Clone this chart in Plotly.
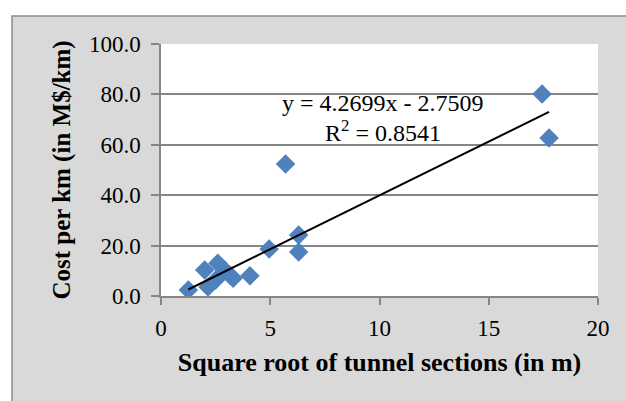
import plotly.graph_objects as go

# Data
section_sqrt = [1.25, 2.0, 2.15, 2.5, 2.6, 2.9, 3.15, 3.3, 4.07, 4.95, 5.7, 6.3, 6.3, 17.44, 17.76]
cost_per_km = [2.4, 10.3, 3.6, 6.3, 13.0, 10.3, 8.3, 7.0, 8.0, 18.7, 52.4, 24.2, 17.5, 80.2, 62.7]
trend_slope = 4.2699
trend_intercept = -2.7509
trend_r2 = 0.8541
x_ticks = [0, 5, 10, 15, 20]
y_ticks = [0, 20, 40, 60, 80, 100]

W, H = 626, 401
ML, MR, MT, MB = 161, 28, 44, 105
FONT = "Liberation Serif"
PW, PH = W - ML - MR, H - MT - MB

trend_x = [min(section_sqrt), max(section_sqrt)]
trend_y = [trend_slope * v + trend_intercept for v in trend_x]

fig = go.Figure()
fig.add_trace(go.Scatter(
    x=section_sqrt, y=cost_per_km, mode="markers",
    marker=dict(symbol="diamond", size=15, color="#4F81BD", line=dict(width=0)),
    showlegend=False, hoverinfo="x+y"))
fig.add_trace(go.Scatter(
    x=trend_x, y=trend_y, mode="lines",
    line=dict(color="black", width=2), showlegend=False, hoverinfo="skip"))

# chart-area frame (grey) and white plot area
fig.add_shape(type="rect", xref="paper", yref="paper",
              x0=(12 - ML) / PW, x1=(640 - ML) / PW,
              y0=(H - MB - 420) / PH, y1=(H - MB - 16) / PH,
              fillcolor="#D9D9D9", line=dict(color="#8C8C8C", width=1.5), layer="below")
fig.add_shape(type="rect", xref="paper", yref="paper", x0=0, x1=1, y0=0, y1=1,
              fillcolor="white", line=dict(width=0), layer="below")

sign = "-" if trend_intercept < 0 else "+"
fig.add_annotation(x=(383 - ML) / PW, xref="paper", y=(H - MB - 103) / PH, yref="paper",
                   xanchor="center", yanchor="middle",
                   text=f"y = {trend_slope:.4f}x {sign} {abs(trend_intercept):.4f}",
                   showarrow=False, font=dict(family=FONT, size=24, color="black"))
fig.add_annotation(x=(383 - ML) / PW, xref="paper", y=(H - MB - 131) / PH, yref="paper",
                   xanchor="center", yanchor="middle",
                   text=f"R<sup>2</sup> = {trend_r2:.4f}",
                   showarrow=False, font=dict(family=FONT, size=24, color="black"))

fig.update_layout(
    width=W, height=H,
    margin=dict(l=ML, r=MR, t=MT, b=MB, autoexpand=False),
    paper_bgcolor="white", plot_bgcolor="white",
    font=dict(family=FONT, color="black"),
    xaxis=dict(range=[0, 20], tickvals=x_ticks, ticktext=[str(v) for v in x_ticks],
               automargin=False,
               showgrid=False, zeroline=False, showline=True, linecolor="#868686", linewidth=1.5,
               ticks="outside", ticklen=7, tickcolor="#868686", tickwidth=1.5,
               ticklabelstandoff=4,
               tickfont=dict(family=FONT, size=23),
               title=dict(text="<b>Square root of tunnel sections (in m)</b>",
                          font=dict(family=FONT, size=26), standoff=12)),
    yaxis=dict(range=[0, 100], tickvals=y_ticks, ticktext=[f"{v:.1f}" for v in y_ticks],
               automargin=False,
               showgrid=True, gridcolor="#868686", gridwidth=1.5, zeroline=False,
               showline=True, linecolor="#868686", linewidth=1.5,
               ticks="outside", ticklen=8, tickcolor="#868686", tickwidth=1.5,
               ticklabelstandoff=6,
               tickfont=dict(family=FONT, size=23),
               title=dict(text="<b>Cost per km (in M$/km)</b>",
                          font=dict(family=FONT, size=25), standoff=11)),
)

fig.write_html("out.html", config={"displayModeBar": False},
               post_script="document.body.style.margin='0';")
